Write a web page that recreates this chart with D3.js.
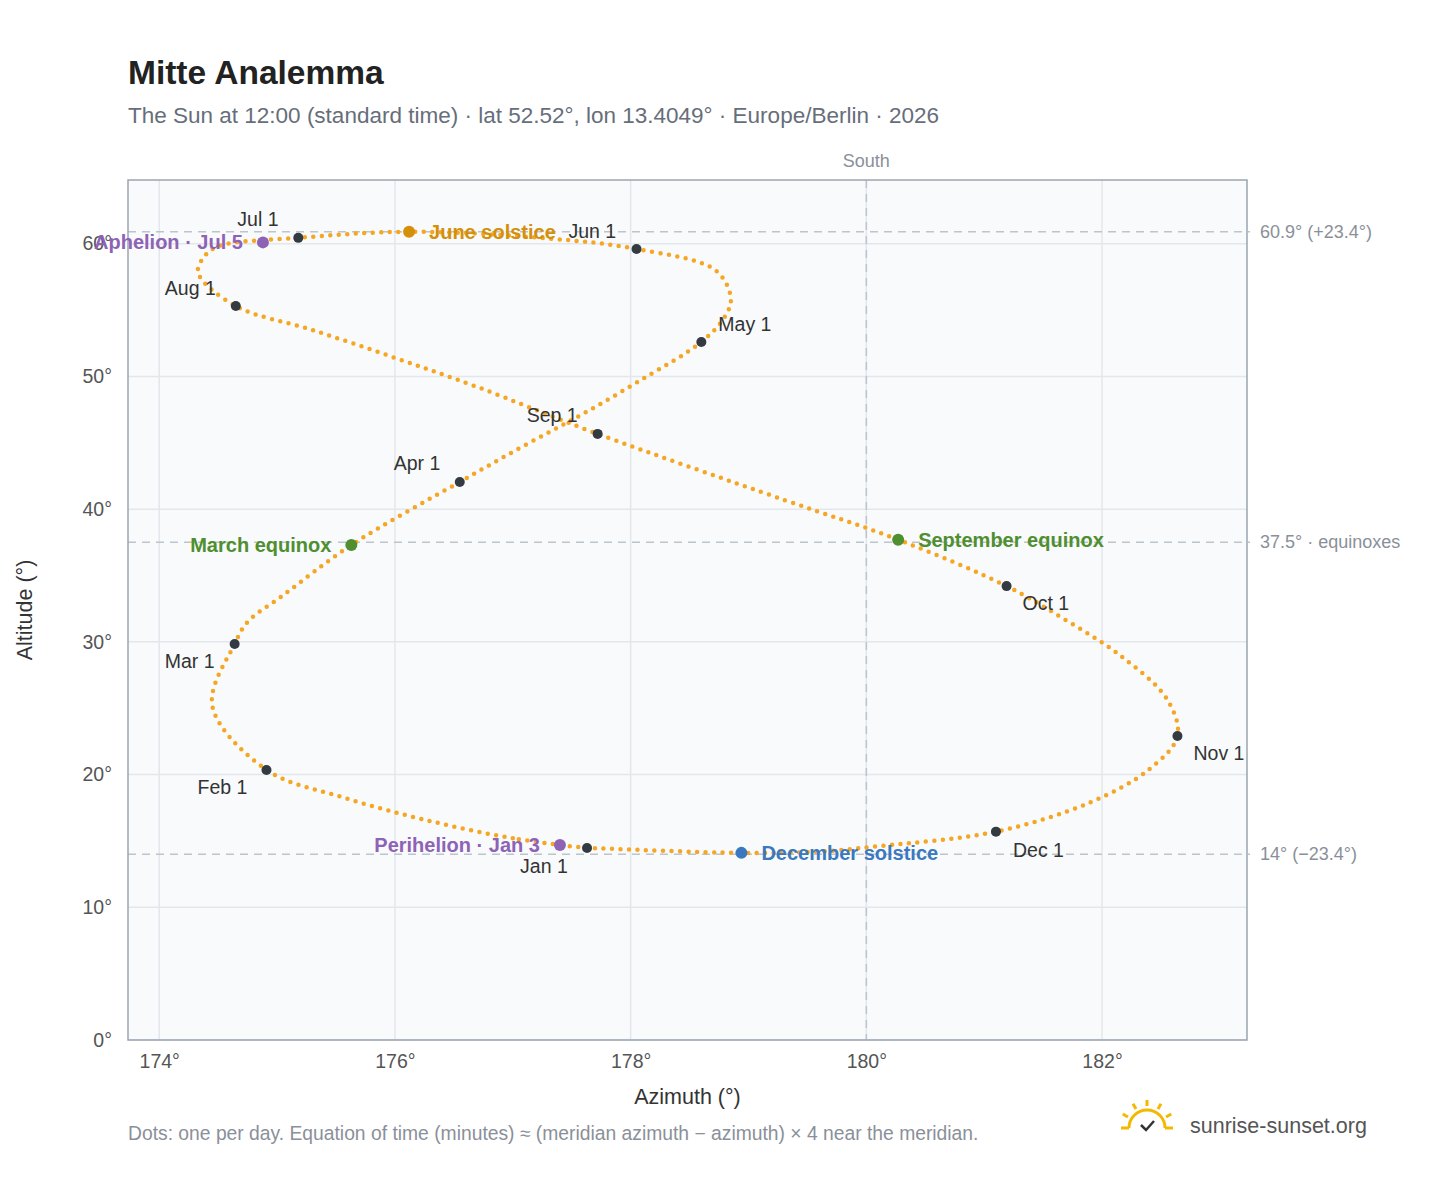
<!DOCTYPE html>
<html><head><meta charset="utf-8">
<script src="https://cdn.jsdelivr.net/npm/d3@7"></script>
<style>body{margin:0;background:#fff;font-family:"Liberation Sans",Arial,sans-serif}</style>
</head><body><svg id="c" width="1448" height="1188"></svg>
<script>
// Analemma path (date, azimuth °, altitude °)
const pathDates = ["Jan 1","Jan 8","Jan 15","Jan 22","Feb 1","Feb 15","Mar 1","Mar 5","Mar 10","Mar 20","Apr 1","Apr 8","Apr 15","Apr 22","May 1","May 8","May 14","May 22","Jun 1","Jun 10","Jun 21","Jul 1","Jul 12","Jul 18","Jul 26","Aug 1","Aug 8","Aug 15","Aug 22","Sep 1","Sep 15","Sep 23","Oct 1","Oct 8","Oct 15","Oct 24","Nov 1","Nov 10","Nov 20","Dec 1","Dec 10","Dec 15","Dec 21","Dec 31"];
const pathAz = [177.63,177.0,176.25,175.55,174.91,174.45,174.64,174.75,175.05,175.63,176.55,177.1,177.6,178.1,178.6,178.8,178.85,178.72,178.05,177.3,176.12,175.18,174.5,174.38,174.33,174.65,175.3,176.0,176.7,177.72,179.3,180.27,181.19,181.7,182.15,182.55,182.64,182.4,181.9,181.1,180.1,179.6,178.94,177.7];
const pathAlt = [14.47,15.2,16.6,18.3,20.35,25.2,29.84,31.5,33.5,37.3,42.05,44.8,47.2,49.8,52.6,54.5,55.9,58.0,59.6,60.4,60.9,60.44,59.8,59.0,57.8,55.3,53.5,51.4,49.2,45.67,40.7,37.7,34.2,31.6,29.0,25.7,22.9,20.4,17.9,15.7,14.6,14.2,14.1,14.45];
// Month-start markers
const monthLabels = ["Jan 1","Feb 1","Mar 1","Apr 1","May 1","Jun 1","Jul 1","Aug 1","Sep 1","Oct 1","Nov 1","Dec 1"];
const monthAz = [177.63,174.91,174.64,176.55,178.6,178.05,175.18,174.65,177.72,181.19,182.64,181.1];
const monthAlt = [14.47,20.35,29.84,42.05,52.6,59.6,60.44,55.3,45.67,34.2,22.9,15.7];
const monthDx = [-67,-69,-70,-66,17,-68,-61,-71,-71,16,16,17];
const monthDy = [25,24,24,-12,-11,-11,-12,-11,-12,24,24,25];
// Special events
const eventNames = ["Perihelion · Jan 3","March equinox","June solstice","Aphelion · Jul 5","September equinox","December solstice"];
const eventAz = [177.4,175.63,176.12,174.88,180.27,178.94];
const eventAlt = [14.7,37.3,60.9,60.1,37.7,14.1];
const eventColor = ["#8e63b5","#4f8f2f","#d4900b","#8e63b5","#4f8f2f","#3a78c0"];
const eventSide = ["left","left","right","left","right","right"];
// Reference lines
const refAlt = [60.9,37.5,14.0];
const refText = ["60.9° (+23.4°)","37.5° · equinoxes","14° (−23.4°)"];
const xTicks = [174,176,178,180,182];
const yTicks = [0,10,20,30,40,50,60];

const svg = d3.select("#c");
const m = {l:128,r:1247,t:180,b:1040};
const x = d3.scaleLinear().domain([173.735,183.23]).range([m.l,m.r]);
const y = d3.scaleLinear().domain([0,64.8]).range([m.b,m.t]);

svg.append("text").attr("x",128).attr("y",84).attr("font-size",33.5).attr("font-weight","bold").attr("fill","#222").text("Mitte Analemma");
svg.append("text").attr("x",128).attr("y",123).attr("font-size",22.5).attr("fill","#666e7a").text("The Sun at 12:00 (standard time) · lat 52.52°, lon 13.4049° · Europe/Berlin · 2026");

svg.append("rect").attr("x",m.l).attr("y",m.t).attr("width",m.r-m.l).attr("height",m.b-m.t).attr("fill","#f8fafc");
const g = svg.append("g");
xTicks.forEach(t=>g.append("line").attr("x1",x(t)).attr("x2",x(t)).attr("y1",m.t).attr("y2",m.b).attr("stroke","#e3e7ec").attr("stroke-width",1.5));
yTicks.forEach(t=>g.append("line").attr("x1",m.l).attr("x2",m.r).attr("y1",y(t)).attr("y2",y(t)).attr("stroke","#e3e7ec").attr("stroke-width",1.5));

const xa = svg.append("g").attr("transform",`translate(0,${m.b})`).call(d3.axisBottom(x).tickValues(xTicks).tickFormat(d=>d+"°").tickSize(0).tickPadding(14));
const ya = svg.append("g").attr("transform",`translate(${m.l},0)`).call(d3.axisLeft(y).tickValues(yTicks).tickFormat(d=>d+"°").tickSize(0).tickPadding(16));
[xa,ya].forEach(a=>{a.select(".domain").remove();a.selectAll("text").attr("font-size",19.5).attr("fill","#555").attr("font-family","Liberation Sans, Arial")});

refAlt.forEach((a,i)=>{
  svg.append("line").attr("x1",m.l).attr("x2",1250).attr("y1",y(a)).attr("y2",y(a)).attr("stroke","#bcc4cc").attr("stroke-width",1.5).attr("stroke-dasharray","8,6");
  svg.append("text").attr("x",1260).attr("y",y(a)+6).attr("font-size",18).attr("fill","#8a9099").text(refText[i]);
});
svg.append("line").attr("x1",x(180)).attr("x2",x(180)).attr("y1",m.t).attr("y2",m.b).attr("stroke","#bcc4cc").attr("stroke-width",1.5).attr("stroke-dasharray","8,6");
svg.append("text").attr("x",x(180)).attr("y",167).attr("text-anchor","middle").attr("font-size",18).attr("fill","#8a9099").text("South");
svg.append("rect").attr("x",m.l).attr("y",m.t).attr("width",m.r-m.l).attr("height",m.b-m.t).attr("fill","none").attr("stroke","#9aa5b1").attr("stroke-width",1.5);

const pts = pathAz.map((a,i)=>[x(a),y(pathAlt[i])]);
svg.append("path").attr("d",d3.line().curve(d3.curveCatmullRomClosed.alpha(0.5))(pts))
  .attr("fill","none").attr("stroke","#f5a623").attr("stroke-width",4.5).attr("stroke-linecap","round").attr("stroke-dasharray","0 8.5");

monthAz.forEach((a,i)=>{
  svg.append("circle").attr("cx",x(a)).attr("cy",y(monthAlt[i])).attr("r",5).attr("fill","#333a42");
  svg.append("text").attr("x",x(a)+monthDx[i]).attr("y",y(monthAlt[i])+monthDy[i]).attr("font-size",19.5).attr("fill","#333").text(monthLabels[i]);
});
eventAz.forEach((a,i)=>{
  svg.append("circle").attr("cx",x(a)).attr("cy",y(eventAlt[i])).attr("r",6).attr("fill",eventColor[i]);
  const left = eventSide[i]==="left";
  svg.append("text").attr("x",x(a)+(left?-20:20)).attr("y",y(eventAlt[i])+7).attr("text-anchor",left?"end":"start")
    .attr("font-size",20).attr("font-weight","bold").attr("fill",eventColor[i]).text(eventNames[i]);
});

svg.append("text").attr("x",(m.l+m.r)/2).attr("y",1104).attr("text-anchor","middle").attr("font-size",21.5).attr("fill","#333").text("Azimuth (°)");
svg.append("text").attr("transform",`translate(32,${(m.t+m.b)/2}) rotate(-90)`).attr("text-anchor","middle").attr("font-size",21.5).attr("fill","#333").text("Altitude (°)");
svg.append("text").attr("x",128).attr("y",1140).attr("font-size",19.3).attr("fill","#8a9099").text("Dots: one per day. Equation of time (minutes) ≈ (meridian azimuth − azimuth) × 4 near the meridian.");

const lg = svg.append("g").attr("transform","translate(1147,1128)");
lg.append("path").attr("d","M-18,0 A18,18 0 0 1 18,0").attr("fill","none").attr("stroke","#f5b800").attr("stroke-width",3);
[-60,-30,0,30,60].forEach(an=>{const r=an*Math.PI/180;lg.append("line").attr("x1",Math.sin(r)*22).attr("y1",-Math.cos(r)*22).attr("x2",Math.sin(r)*28).attr("y2",-Math.cos(r)*28).attr("stroke","#f5b800").attr("stroke-width",3)});
lg.append("line").attr("x1",-26).attr("x2",-18).attr("y1",0).attr("y2",0).attr("stroke","#f5b800").attr("stroke-width",3);
lg.append("line").attr("x1",18).attr("x2",26).attr("y1",0).attr("y2",0).attr("stroke","#f5b800").attr("stroke-width",3);
lg.append("path").attr("d","M-6,-3 L-1,2 L7,-7").attr("fill","none").attr("stroke","#333").attr("stroke-width",2.5);
svg.append("text").attr("x",1190).attr("y",1133).attr("font-size",21.5).attr("fill","#555").text("sunrise-sunset.org");
</script></body></html>
